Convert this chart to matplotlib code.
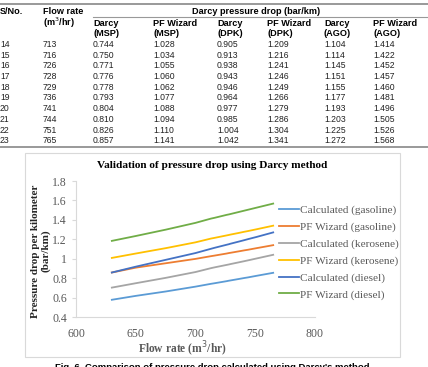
import matplotlib
matplotlib.use("Agg")
import matplotlib.pyplot as plt
from matplotlib.lines import Line2D

W, H = 428, 367

# table rows (S/No. 14-23)
sno = [14, 15, 16, 17, 18, 19, 20, 21, 22, 23]
flow = [713, 716, 726, 728, 729, 736, 741, 744, 751, 765]
darcy_msp = ["0.744", "0.750", "0.771", "0.776", "0.778", "0.793", "0.804", "0.810", "0.826", "0.857"]
pfw_msp = ["1.028", "1.034", "1.055", "1.060", "1.062", "1.077", "1.088", "1.094", "1.110", "1.141"]
darcy_dpk = ["0.905", "0.913", "0.938", "0.943", "0.946", "0.964", "0.977", "0.985", "1.004", "1.042"]
pfw_dpk = ["1.209", "1.216", "1.241", "1.246", "1.249", "1.266", "1.279", "1.286", "1.304", "1.341"]
darcy_ago = ["1.104", "1.114", "1.145", "1.151", "1.155", "1.177", "1.193", "1.203", "1.225", "1.272"]
pfw_ago = ["1.414", "1.422", "1.452", "1.457", "1.460", "1.481", "1.496", "1.505", "1.526", "1.568"]

# chart series: points for the lower flow rates, then the table rows
early_flow = [630, 650, 675, 700]
chart_flow = early_flow + flow
calc_gasoline = [0.58, 0.62, 0.665, 0.715] + [float(v) for v in darcy_msp]
pfw_gasoline = [0.86, 0.91, 0.955, 1.0] + [float(v) for v in pfw_msp]
calc_kerosene = [0.705, 0.75, 0.805, 0.865] + [float(v) for v in darcy_dpk]
pfw_kerosene = [1.01, 1.055, 1.11, 1.17] + [float(v) for v in pfw_dpk]
calc_diesel = [0.86, 0.92, 0.99, 1.06] + [float(v) for v in darcy_ago]
pfw_diesel = [1.185, 1.235, 1.30, 1.37] + [float(v) for v in pfw_ago]

labels = ["Calculated (gasoline)", "PF Wizard (gasoline)", "Calculated (kerosene)",
          "PF Wizard (kerosene)", "Calculated (diesel)", "PF Wizard (diesel)"]
colors = ["#5B9BD5", "#ED7D31", "#A5A5A5", "#FFC000", "#4472C4", "#70AD47"]


def fx(x):
    return x / W


def fy(y):
    return 1 - y / H


fig = plt.figure(figsize=(W / 100, H / 100), dpi=100)
sans = "Liberation Sans"
serif = "Liberation Serif"

# ---- table ----
def hline(x0, x1, y, lw=1.2, c="#999999"):
    fig.add_artist(Line2D([fx(x0), fx(x1)], [fy(y), fy(y)], color=c, lw=lw))

hline(0, W, 4, lw=1.4)
hline(93, W, 16.5, lw=0.8)
hline(0, W, 147, lw=1.4)

hs = 6.6
fig.text(fx(0), fy(11), "S/No.", fontsize=hs, fontweight="bold", family=sans, va="center")
fig.text(fx(43), fy(11), "Flow rate", fontsize=hs, fontweight="bold", family=sans, va="center")
fig.text(fx(43), fy(23), "(m$^3$/hr)", fontsize=hs, fontweight="bold", family=sans, va="center")
fig.text(fx(256), fy(11), "Darcy pressure drop (bar/km)", fontsize=hs, fontweight="bold",
         family=sans, va="center", ha="center")

col_x = [93, 153, 217, 267, 324, 373]
sub1 = ["Darcy", "PF Wizard", "Darcy", "PF Wizard", "Darcy", "PF Wizard"]
sub2 = ["(MSP)", "(MSP)", "(DPK)", "(DPK)", "(AGO)", "(AGO)"]
for x, a, b in zip(col_x, sub1, sub2):
    fig.text(fx(x), fy(23), a, fontsize=hs, fontweight="bold", family=sans, va="center")
    fig.text(fx(x), fy(33), b, fontsize=hs, fontweight="bold", family=sans, va="center")

ds = 6.2
cols = [darcy_msp, pfw_msp, darcy_dpk, pfw_dpk, darcy_ago, pfw_ago]
for i in range(len(sno)):
    y = 44.5 + i * 10.7
    fig.text(fx(0), fy(y), str(sno[i]), fontsize=ds, family=sans, va="center", color="#222222")
    fig.text(fx(43), fy(y), str(flow[i]), fontsize=ds, family=sans, va="center", color="#222222")
    for x, c in zip(col_x, cols):
        fig.text(fx(x), fy(y), c[i], fontsize=ds, family=sans, va="center", color="#222222")

# ---- chart border ----
fig.add_artist(plt.Rectangle((fx(25), fy(357)), fx(400) - fx(25), fy(153) - fy(357),
                             fill=False, edgecolor="#d9d9d9", lw=0.8))

ax = fig.add_axes([fx(76), fy(317.3), fx(315) - fx(76), fy(181) - fy(317.3)])
series = [calc_gasoline, pfw_gasoline, calc_kerosene, pfw_kerosene, calc_diesel, pfw_diesel]
for s, lab, c in zip(series, labels, colors):
    ax.plot(chart_flow, s, color=c, lw=1.3, label=lab)

ax.set_xlim(600, 800)
ax.set_ylim(0.4, 1.8)
ax.set_xticks([600, 650, 700, 750, 800])
ax.set_yticks([0.4, 0.6, 0.8, 1.0, 1.2, 1.4, 1.6, 1.8])
ax.set_yticklabels(["0.4", "0.6", "0.8", "1", "1.2", "1.4", "1.6", "1.8"])
for sp in ["top", "right"]:
    ax.spines[sp].set_visible(False)
for sp in ["left", "bottom"]:
    ax.spines[sp].set_color("#d9d9d9")
    ax.spines[sp].set_linewidth(0.8)
ax.tick_params(axis="both", colors="#d9d9d9", labelcolor="#595959", labelsize=8.5,
               length=3, width=0.8)
ax.tick_params(axis="x", length=0, pad=8)
for t in ax.get_xticklabels() + ax.get_yticklabels():
    t.set_family(serif)

fig.text(fx(212), fy(166), "Validation of pressure drop using Darcy method", fontsize=8.1,
         fontweight="bold", family=serif, ha="center", va="center")
fig.text(fx(41), fy(251), "Pressure drop per kilometer\n(bar/km)", fontsize=8.0,
         fontweight="bold", family=serif, ha="center", va="center", rotation=90,
         color="#262626", linespacing=1.1)
fig.text(fx(182), fy(349), "Flow rate (m$^3$/hr)", fontsize=8.3, fontweight="bold",
         family=serif, ha="center", va="center", color="#595959")

leg = ax.legend(loc="upper left", bbox_to_anchor=(fx(269), fy(195)),
                bbox_transform=fig.transFigure, frameon=False,
                handlelength=1.8, handletextpad=0.1, labelspacing=0.6,
                prop={"family": serif, "size": 8.1})
for t in leg.get_texts():
    t.set_color("#595959")

fig.text(fx(212), fy(363), "Fig. 6. Comparison of pressure drop calculated using Darcy's method",
         fontsize=6.8, fontweight="bold", family=sans, ha="center", va="top")

fig.savefig("out.png", dpi=100)
